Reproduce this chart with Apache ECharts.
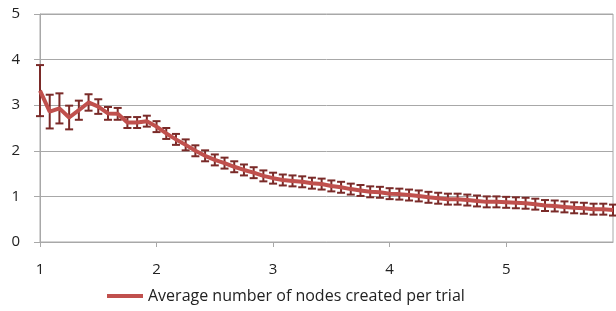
<!DOCTYPE html>
<html>
<head>
<meta charset="utf-8">
<script src="https://cdn.jsdelivr.net/npm/echarts@6/dist/echarts.min.js"></script>
<style>
    html, body { margin: 0; padding: 0; background: #fff; }
    #chart { width: 616px; height: 311px; }
</style>
</head>
<body>
<div id="chart"></div>
<script>
// 轴标签 (每12个点一个)
const tickLabels = ['1', '2', '3', '4', '5'];
const tickStep = 12;

// 平均值
const means = [
    3.32, 2.86, 2.93, 2.73, 2.89, 3.06, 2.97, 2.82, 2.81, 2.62,
    2.62, 2.65, 2.53, 2.38, 2.25, 2.13, 2.00, 1.89, 1.80, 1.73,
    1.65, 1.58, 1.52, 1.45, 1.40, 1.36, 1.34, 1.32, 1.29, 1.27,
    1.23, 1.20, 1.16, 1.13, 1.10, 1.09, 1.06, 1.05, 1.03, 1.01,
    0.98, 0.96, 0.94, 0.94, 0.92, 0.90, 0.88, 0.88, 0.87, 0.86,
    0.85, 0.83, 0.80, 0.79, 0.77, 0.75, 0.74, 0.72, 0.72, 0.70
];

// 误差 (±)
const errors = [
    0.56, 0.37, 0.33, 0.26, 0.21, 0.18, 0.16, 0.14, 0.13, 0.12,
    0.12, 0.12, 0.12, 0.12, 0.12, 0.12, 0.12, 0.12, 0.12, 0.12,
    0.12, 0.12, 0.12, 0.12, 0.12, 0.12, 0.12, 0.12, 0.12, 0.12,
    0.12, 0.12, 0.12, 0.12, 0.12, 0.12, 0.12, 0.12, 0.12, 0.12,
    0.12, 0.12, 0.12, 0.12, 0.12, 0.12, 0.12, 0.12, 0.12, 0.12,
    0.12, 0.12, 0.12, 0.12, 0.12, 0.12, 0.12, 0.12, 0.12, 0.12
];

const seriesName = 'Average number of nodes created per trial';

const categories = means.map((_, i) => (i % tickStep === 0 ? tickLabels[i / tickStep] : ''));
const errorData = means.map((m, i) => [i, m - errors[i], m + errors[i]]);

const font = '"Open Sans", sans-serif';

const options = {
    animation: false,
    textStyle: { fontFamily: font },
    grid: {
        left: 40,
        right: 3,
        top: 14,
        bottom: 69,
        show: true,
        borderColor: '#a8a8a8',
        borderWidth: 1
    },
    legend: {
        data: [{ name: seriesName, icon: 'rect' }],
        left: 102,
        bottom: 2,
        itemWidth: 36,
        itemHeight: 4,
        itemGap: 5,
        textStyle: { fontSize: 16, color: '#222', fontFamily: font }
    },
    xAxis: {
        type: 'category',
        data: categories,
        boundaryGap: false,
        axisLine: { lineStyle: { color: '#a8a8a8' } },
        axisTick: { show: true, interval: tickStep - 1, length: 5, lineStyle: { color: '#a8a8a8' } },
        axisLabel: { interval: tickStep - 1, margin: 20, fontSize: 15, color: '#222', fontFamily: font },
        splitLine: { show: false }
    },
    yAxis: {
        type: 'value',
        min: 0,
        max: 5,
        interval: 1,
        axisLine: { show: true, lineStyle: { color: '#a8a8a8' } },
        axisTick: { show: true, length: 6, lineStyle: { color: '#a8a8a8' } },
        axisLabel: { margin: 20, fontSize: 15, color: '#222', fontFamily: font },
        splitLine: { lineStyle: { color: '#a8a8a8' } }
    },
    series: [
        {
            name: 'error',
            type: 'custom',
            data: errorData,
            encode: { x: 0, y: [1, 2] },
            z: 2,
            renderItem: function (params, api) {
                const lo = api.coord([api.value(0), api.value(1)]);
                const hi = api.coord([api.value(0), api.value(2)]);
                const w = 4;
                const style = { stroke: '#7a2a28', lineWidth: 2, fill: null };
                return {
                    type: 'group',
                    children: [
                        { type: 'line', shape: { x1: lo[0], y1: lo[1], x2: hi[0], y2: hi[1] }, style: style },
                        { type: 'line', shape: { x1: lo[0] - w, y1: lo[1], x2: lo[0] + w, y2: lo[1] }, style: style },
                        { type: 'line', shape: { x1: hi[0] - w, y1: hi[1], x2: hi[0] + w, y2: hi[1] }, style: style }
                    ]
                };
            }
        },
        {
            name: seriesName,
            type: 'line',
            data: means,
            z: 3,
            showSymbol: false,
            symbol: 'none',
            itemStyle: { color: '#c0504d' },
            lineStyle: { color: '#c0504d', width: 4 }
        }
    ]
};

const E = echarts.init(document.getElementById('chart'));
window.onresize = function () {
    E.resize();
};
E.setOption(options);
</script>
</body>
</html>
